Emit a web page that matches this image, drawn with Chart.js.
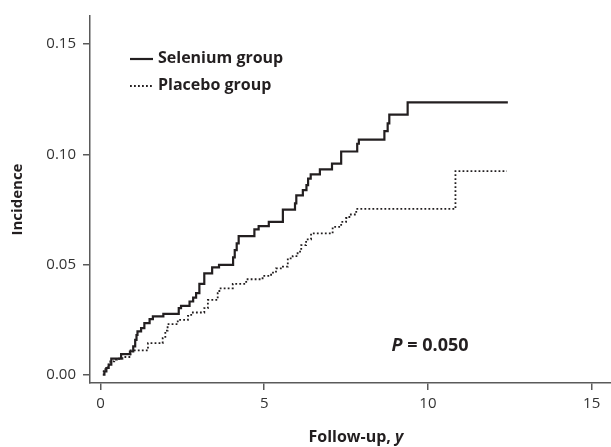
<!DOCTYPE html>
<html lang="en">
<head>
<meta charset="utf-8">
<title>Incidence by group</title>
<script src="https://cdn.jsdelivr.net/npm/chart.js@4.4.1/dist/chart.umd.min.js"></script>
<style>
  html, body { margin: 0; padding: 0; background: #fff; }
</style>
</head>
<body>
<canvas id="kmChart" width="611" height="447"></canvas>
<script>
// step times (years) and cumulative incidence
const seleniumTimes = [0.07, 0.12, 0.18, 0.25, 0.33, 0.63, 0.90, 1.00, 1.06, 1.10, 1.13, 1.24, 1.34, 1.50, 1.60, 1.92,
  2.39, 2.46, 2.72, 2.83, 2.92, 3.02, 3.17, 3.41, 3.62, 4.05, 4.10, 4.16, 4.22, 4.70, 4.83, 5.14, 5.57, 5.94, 5.98,
  6.18, 6.29, 6.34, 6.42, 6.70, 7.07, 7.35, 7.84, 7.89, 8.67, 8.77, 8.82, 9.38, 12.44];
const seleniumIncidence = [0, 0.0015, 0.0030, 0.0045, 0.0073, 0.0093, 0.0105, 0.0128, 0.0158, 0.0180, 0.0196, 0.0211,
  0.0234, 0.0252, 0.0264, 0.0276, 0.0302, 0.0312, 0.0332, 0.0350, 0.0370, 0.0412, 0.0460, 0.0487, 0.0498, 0.0532,
  0.0565, 0.0596, 0.0629, 0.0659, 0.0674, 0.0693, 0.0749, 0.0777, 0.0814, 0.0838, 0.0860, 0.0890, 0.0909, 0.0932,
  0.0958, 0.1013, 0.1048, 0.1067, 0.1105, 0.1141, 0.1180, 0.1236, 0.1236];

const placeboTimes = [0.07, 0.15, 0.22, 0.30, 0.42, 0.50, 0.67, 0.92, 1.45, 1.90, 1.98, 2.05, 2.36, 2.67, 2.77, 3.17,
  3.28, 3.58, 3.63, 4.04, 4.45, 4.95, 5.21, 5.36, 5.57, 5.72, 5.87, 6.02, 6.13, 6.28, 6.43, 7.09, 7.35, 7.50, 7.60,
  7.81, 10.84, 12.41];
const placeboIncidence = [0.0015, 0.0030, 0.0045, 0.0060, 0.0068, 0.0072, 0.0080, 0.0110, 0.0143, 0.0166, 0.0200,
  0.0229, 0.0249, 0.0267, 0.0282, 0.0302, 0.0339, 0.0370, 0.0392, 0.0412, 0.0433, 0.0448, 0.0463, 0.0482, 0.0490,
  0.0528, 0.0538, 0.0558, 0.0588, 0.0614, 0.0641, 0.0671, 0.0693, 0.0711, 0.0727, 0.0752, 0.0924, 0.0924];

const xTicks = [0, 5, 10, 15];
const yTicks = [0, 0.05, 0.10, 0.15];
const seriesNames = ["Selenium group", "Placebo group"];
const pValue = "0.050";

const FONT = "'Open Sans', 'Noto Sans', sans-serif";
const INK = "#231f20";
const AXIS = "#5a5a5a";

function toPoints(times, values) {
  return times.map((t, i) => ({ x: t, y: values[i] }));
}

// legend, P value and the x title (it mixes italic and upright)
const overlayText = {
  id: "overlayText",
  afterDraw(chart) {
    const { ctx, chartArea } = chart;
    const xs = chart.scales.x;
    const ys = chart.scales.y;
    const lx = chartArea.left + 40;
    const rows = [chartArea.top + 43, chartArea.top + 70];
    ctx.save();
    ctx.fillStyle = INK;
    ctx.strokeStyle = INK;
    ctx.textBaseline = "middle";
    ctx.font = "bold 16px " + FONT;
    chart.data.datasets.forEach((ds, i) => {
      ctx.beginPath();
      ctx.lineWidth = ds.borderWidth;
      ctx.setLineDash(ds.borderDash || []);
      ctx.moveTo(lx, rows[i]);
      ctx.lineTo(lx + 23, rows[i]);
      ctx.stroke();
      ctx.fillText(ds.label, lx + 28, rows[i] - 1);
    });
    ctx.setLineDash([]);

    // P = 0.050
    const px = xs.getPixelForValue(8.89);
    const py = ys.getPixelForValue(0.0106);
    ctx.textBaseline = "alphabetic";
    ctx.font = "italic bold 18px " + FONT;
    ctx.fillText("P", px, py);
    const w = ctx.measureText("P").width;
    ctx.font = "bold 18px " + FONT;
    ctx.fillText(" = " + pValue, px + w, py);

    // x axis title, centred where the uncropped axis would centre it
    ctx.font = "bold 16px " + FONT;
    const a = "Follow-up, ";
    const wa = ctx.measureText(a).width;
    ctx.font = "italic bold 16px " + FONT;
    const wb = ctx.measureText("y").width;
    const cx = xs.getPixelForValue(7.8);
    const x0 = cx - (wa + wb) / 2;
    ctx.font = "bold 16px " + FONT;
    ctx.fillText(a, x0, 442);
    ctx.font = "italic bold 16px " + FONT;
    ctx.fillText("y", x0 + wa, 442);
    ctx.restore();
  }
};

new Chart(document.getElementById("kmChart"), {
  type: "line",
  data: {
    datasets: [
      {
        label: seriesNames[0],
        data: toPoints(seleniumTimes, seleniumIncidence),
        borderColor: INK,
        borderWidth: 2.2,
        stepped: "before",
        pointRadius: 0,
        fill: false,
      },
      {
        label: seriesNames[1],
        data: toPoints(placeboTimes, placeboIncidence),
        borderColor: INK,
        borderWidth: 1.8,
        borderDash: [1.8, 2.2],
        stepped: "before",
        pointRadius: 0,
        fill: false,
      },
    ],
  },
  options: {
    responsive: false,
    animation: false,
    layout: { padding: { left: 0, top: 15, right: 0, bottom: 0 } },
    plugins: { legend: { display: false }, tooltip: { enabled: false } },
    scales: {
      x: {
        type: "linear",
        min: -0.32,
        max: 15.59,
        afterBuildTicks: (s) => { s.ticks = xTicks.map((v) => ({ value: v })); },
        afterFit: (s) => { s.height = 64; },
        grid: { drawOnChartArea: false, color: AXIS, lineWidth: 1.5, tickLength: 7 },
        border: { color: AXIS, width: 1.5 },
        ticks: { color: "#333", padding: 5, font: { family: FONT, size: 15 } },
      },
      y: {
        type: "linear",
        min: -0.0038,
        max: 0.1628,
        afterBuildTicks: (s) => { s.ticks = yTicks.map((v) => ({ value: v })); },
        afterFit: (s) => { s.width = 90; },
        grid: { drawOnChartArea: false, color: AXIS, lineWidth: 1.5, tickLength: 7 },
        border: { color: AXIS, width: 1.5 },
        ticks: {
          color: "#333",
          padding: 7,
          font: { family: FONT, size: 15 },
          callback: (v) => v.toFixed(2),
        },
        title: {
          display: true,
          text: "Incidence",
          color: INK,
          padding: { top: 9 },
          font: { family: FONT, size: 15, weight: "bold" },
        },
      },
    },
  },
  plugins: [overlayText],
});
</script>
</body>
</html>
